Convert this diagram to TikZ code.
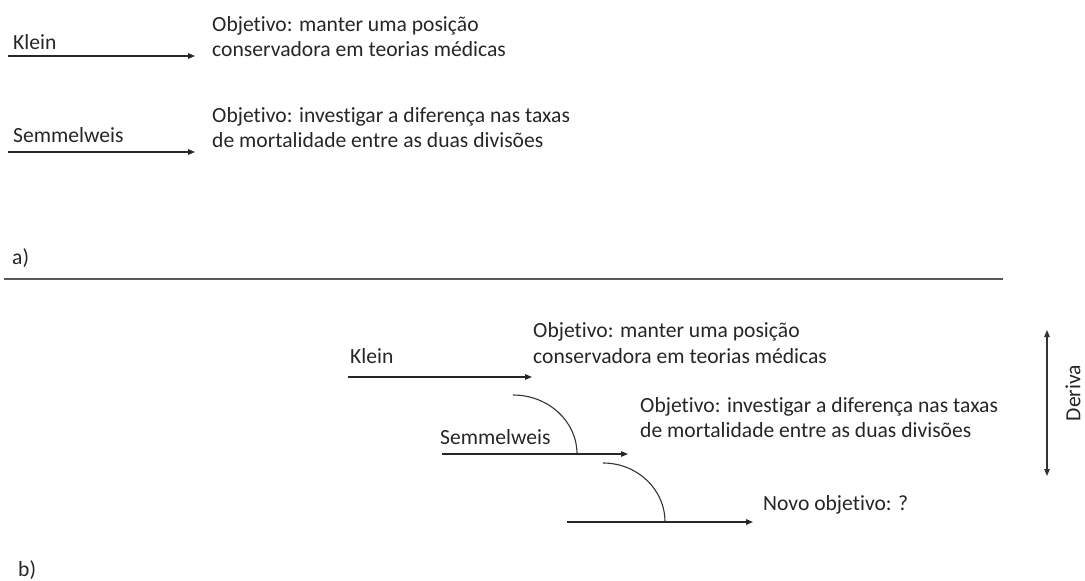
\documentclass[tikz,border=0pt]{standalone}
\usepackage{fontspec}
\setmainfont{Carlito}[Ligatures={NoCommon,NoContextual}]
\usetikzlibrary{arrows.meta}
\begin{document}
\begin{tikzpicture}[x=1pt,y=-1pt,
  lbl/.style={font=\fontsize{21.6}{25.5}\selectfont, inner sep=0pt, anchor=west, align=left, text=black!85},
  conn/.style={-{Triangle[length=7pt,width=5.5pt]}, line width=1.2pt, draw=black!85},
  dblconn/.style={{Triangle[length=7pt,width=5.5pt]}-{Triangle[length=7pt,width=5.5pt]}, line width=1.2pt, draw=black!80},
  arcline/.style={line width=1.1pt, draw=black!80},
  sepline/.style={line width=1.3pt, draw=black!65}]
\useasboundingbox (0,0) rectangle (1085,581);

% ---- part a ----
\node[lbl] (kleinA) at (13,42) {Klein};
\node[lbl] (objA1) at (212,36.5) {Objetivo: manter uma posição\\conservadora em teorias médicas};
\coordinate (a1s) at (8,56);
\coordinate (a1e) at (195,56);
\draw[conn] (a1s) -- (a1e);

\node[lbl] (semA) at (13,135) {Semmelweis};
\node[lbl] (objA2) at (212,127.5) {Objetivo: investigar a diferença nas taxas\\de mortalidade entre as duas divisões};
\coordinate (a2s) at (8,152);
\coordinate (a2e) at (195,152);
\draw[conn] (a2s) -- (a2e);

\node[lbl] (labA) at (12,258) {a)};

\coordinate (sepL) at (4,279);
\coordinate (sepR) at (1003,279);
\draw[sepline] (sepL) -- (sepR);

% ---- part b ----
\node[lbl] (kleinB) at (350,356) {Klein};
\node[lbl] (objB1) at (533,343) {Objetivo: manter uma posição\\conservadora em teorias médicas};
\coordinate (b1s) at (348,377);
\coordinate (b1e) at (532,377);
\draw[conn] (b1s) -- (b1e);

\coordinate (arc1s) at (513,395);
\coordinate (arc1e) at (577,454);
\draw[arcline] (arc1s) .. controls (548,395) and (577,421) .. (arc1e);

\node[lbl] (semB) at (440,437) {Semmelweis};
\node[lbl] (objB2) at (640,417.5) {Objetivo: investigar a diferença nas taxas\\de mortalidade entre as duas divisões};
\coordinate (b2s) at (442,454);
\coordinate (b2e) at (628,454);
\draw[conn] (b2s) -- (b2e);

\coordinate (arc2s) at (603,463);
\coordinate (arc2e) at (665,522);
\draw[arcline] (arc2s) .. controls (637,463) and (665,489) .. (arc2e);

\coordinate (b3s) at (567,522);
\coordinate (b3e) at (753,522);
\draw[conn] (b3s) -- (b3e);
\node[lbl] (novo) at (763,505) {Novo objetivo: ?};

\coordinate (dTop) at (1047,330);
\coordinate (dBot) at (1047,476);
\draw[dblconn] (dTop) -- (dBot);
\node[lbl, anchor=center, rotate=90] (deriva) at (1073,393) {Deriva};

\node[lbl] (labB) at (18,570) {b)};
\end{tikzpicture}
\end{document}
